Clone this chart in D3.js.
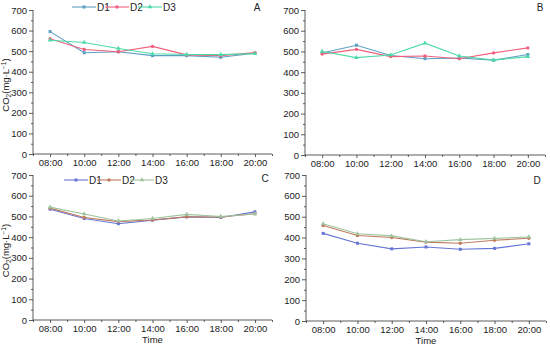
<!DOCTYPE html>
<html>
<head>
<meta charset="utf-8">
<script src="https://cdn.jsdelivr.net/npm/d3@7"></script>
<style>
  body { margin: 0; background: #fff; }
  svg text { font-family: "Liberation Sans", Arial, sans-serif; fill: #222; }
</style>
</head>
<body>
<svg id="chart" width="550" height="349"></svg>
<script>
var times = ["08:00", "10:00", "12:00", "14:00", "16:00", "18:00", "20:00"];
var series = ["D1", "D2", "D3"];
var yTicks = [0, 100, 200, 300, 400, 500, 600, 700];

// panel A
var a_D1 = [595, 492, 497, 478, 478, 470, 490];
var a_D2 = [560, 508, 497, 523, 482, 478, 493];
var a_D3 = [553, 542, 513, 487, 484, 483, 488];
// panel B
var b_D1 = [492, 530, 480, 465, 468, 458, 485];
var b_D2 = [487, 510, 475, 478, 465, 493, 517];
var b_D3 = [500, 470, 483, 540, 478, 458, 475];
// panel C
var c_D1 = [535, 490, 465, 482, 498, 495, 522];
var c_D2 = [540, 495, 475, 483, 498, 497, 513];
var c_D3 = [545, 512, 478, 490, 510, 500, 512];
// panel D
var d_D1 = [420, 373, 346, 355, 344, 348, 370];
var d_D2 = [458, 410, 400, 378, 373, 387, 397];
var d_D3 = [466, 418, 408, 380, 390, 396, 403];

var colorsTop = ["#5b9fc4", "#f0607e", "#4ddaa6"];
var colorsBottom = ["#6676d4", "#c07a5c", "#9fc49f"];

var panels = [
  {id: "A", left: 33, right: 272, top: 10, bottom: 154, data: [a_D1, a_D2, a_D3], colors: colorsTop,
   letterX: 257, letterY: 11, legendX: 72, legendY: 7, ylab: true, xlab: false},
  {id: "B", left: 305, right: 545, top: 10, bottom: 155, data: [b_D1, b_D2, b_D3], colors: colorsTop,
   letterX: 540, letterY: 11, legendX: null, ylab: false, xlab: false},
  {id: "C", left: 33, right: 272, top: 175, bottom: 320, data: [c_D1, c_D2, c_D3], colors: colorsBottom,
   letterX: 265, letterY: 182, legendX: 64, legendY: 180, ylab: true, xlab: true},
  {id: "D", left: 306, right: 546, top: 175, bottom: 321, data: [d_D1, d_D2, d_D3], colors: colorsBottom,
   letterX: 537, letterY: 184, legendX: null, ylab: false, xlab: true}
];

var svg = d3.select("#chart");
var symbols = [d3.symbolSquare, d3.symbolCircle, d3.symbolTriangle];

panels.forEach(function(p) {
  var g = svg.append("g");
  var x = d3.scaleLinear().domain([-0.5, times.length - 0.5]).range([p.left, p.right]);
  var y = d3.scaleLinear().domain([0, 700]).range([p.bottom, p.top]);

  // y axis, major + minor ticks
  var yAxis = d3.axisLeft(y).tickValues(yTicks).tickSize(4).tickPadding(2);
  var ya = g.append("g").attr("transform", "translate(" + p.left + ",0)").call(yAxis);
  g.append("g").attr("transform", "translate(" + p.left + ",0)")
    .call(d3.axisLeft(y).tickValues(d3.range(50, 700, 100)).tickSize(2).tickFormat(""))
    .select(".domain").remove();

  // x axis, major + minor ticks
  var xAxis = d3.axisBottom(x).tickValues(d3.range(times.length))
    .tickFormat(function(i) { return times[i]; }).tickSize(3).tickPadding(2);
  var xa = g.append("g").attr("transform", "translate(0," + p.bottom + ")").call(xAxis);
  g.append("g").attr("transform", "translate(0," + p.bottom + ")")
    .call(d3.axisBottom(x).tickValues(d3.range(-0.5, times.length, 1)).tickSize(2).tickFormat(""))
    .select(".domain").remove();

  g.selectAll(".tick text").style("font-size", "9.5px").style("fill", "#222");
  g.selectAll(".domain, .tick line").attr("stroke", "#333").attr("stroke-width", 0.8);
  ya.select(".domain").attr("d", "M0," + p.bottom + "V" + p.top);
  xa.select(".domain").attr("d", "M" + p.left + ",0H" + p.right);

  // series lines with small markers
  var line = d3.line().x(function(d, i) { return x(i); }).y(function(d) { return y(d); });
  p.data.forEach(function(vals, k) {
    g.append("path").datum(vals)
      .attr("d", line)
      .attr("fill", "none")
      .attr("stroke", p.colors[k])
      .attr("stroke-width", 1.1);
    g.selectAll(".pt" + k).data(vals).enter().append("path")
      .attr("transform", function(d, i) { return "translate(" + x(i) + "," + y(d) + ")"; })
      .attr("d", d3.symbol().type(symbols[k]).size(9))
      .attr("fill", p.colors[k]);
  });

  // panel letter
  g.append("text").attr("x", p.letterX).attr("y", p.letterY)
    .attr("text-anchor", "middle")
    .style("font-size", "10px").text(p.id);

  if (p.legendX != null) {
    series.forEach(function(s, k) {
      var ox = p.legendX + k * 33;
      g.append("line").attr("x1", ox).attr("x2", ox + 24)
        .attr("y1", p.legendY).attr("y2", p.legendY)
        .attr("stroke", p.colors[k]).attr("stroke-width", 1.1);
      g.append("path").attr("transform", "translate(" + (ox + 12) + "," + p.legendY + ")")
        .attr("d", d3.symbol().type(symbols[k]).size(9)).attr("fill", p.colors[k]);
      g.append("text").attr("x", ox + 25).attr("y", p.legendY + 3.5)
        .style("font-size", "10px").text(s);
    });
  }

  if (p.ylab) {
    var t = g.append("text")
      .attr("transform", "translate(9," + ((p.top + p.bottom) / 2 + 3) + ") rotate(-90)")
      .attr("text-anchor", "middle")
      .style("font-size", "9.5px");
    t.append("tspan").text("CO");
    t.append("tspan").attr("dy", 2).style("font-size", "6.5px").text("2");
    t.append("tspan").attr("dy", -2).text("(mg\u00b7L");
    t.append("tspan").attr("dy", -3).style("font-size", "6.5px").text("\u22121");
    t.append("tspan").attr("dy", 3).text(")");
  }

  if (p.xlab) {
    g.append("text").attr("x", (p.left + p.right) / 2).attr("y", p.bottom + 23)
      .attr("text-anchor", "middle").style("font-size", "9.5px").text("Time");
  }
});
</script>
</body>
</html>
